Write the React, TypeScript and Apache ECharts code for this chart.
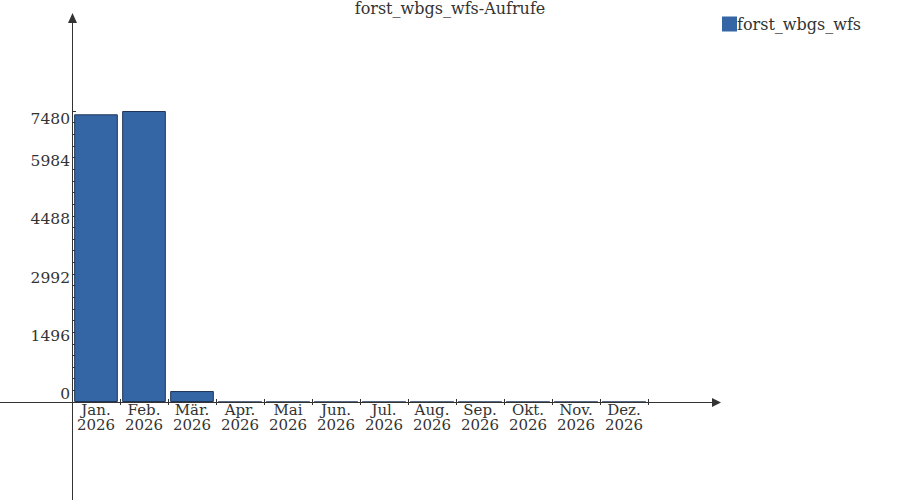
import React, { useEffect, useRef } from "react";
import * as echarts from "echarts";

const title = "forst_wbgs_wfs-Aufrufe";
const seriesName = "forst_wbgs_wfs";
const categories = [
  "Jan.\n2026", "Feb.\n2026", "Mär.\n2026", "Apr.\n2026", "Mai\n2026", "Jun.\n2026",
  "Jul.\n2026", "Aug.\n2026", "Sep.\n2026", "Okt.\n2026", "Nov.\n2026", "Dez.\n2026",
];
const values = [7395, 7480, 282, 0, 0, 0, 0, 0, 0, 0, 0, 0];
const yMax = 7480;
const yStep = 1496;

const FONT = "DejaVu Serif";
const TEXT = "#333333";
const AXIS = "#333333";

export default function App() {
  const ref = useRef<HTMLDivElement>(null);
  useEffect(() => {
    if (!ref.current) return;
    const chart = echarts.init(ref.current, null, { renderer: "svg" });
    const yLabelBase = {
      fontFamily: FONT,
      fontSize: 15.5,
      color: TEXT,
      margin: 2,
    };
    chart.setOption({
      animation: false,
      backgroundColor: "#ffffff",
      textStyle: { fontFamily: FONT, color: TEXT },
      title: {
        text: title,
        left: "center",
        top: 0,
        padding: 0,
        textStyle: { fontFamily: FONT, fontSize: 16, fontWeight: "normal", color: TEXT },
      },
      legend: {
        left: 722,
        top: 16,
        padding: 0,
        icon: "rect",
        itemWidth: 15,
        itemHeight: 15,
        data: [{ name: seriesName, itemStyle: { borderWidth: 0 } }],
        textStyle: { fontFamily: FONT, fontSize: 16, color: TEXT, padding: [0, 0, 0, -5] },
      },
      grid: { left: 72, right: 252, top: 111, bottom: 98, containLabel: false },
      xAxis: [
        {
          type: "category",
          data: categories,
          position: "bottom",
          axisLine: { show: false },
          axisTick: { show: true, length: 3, lineStyle: { color: AXIS } },
          axisLabel: {
            interval: 0,
            fontFamily: FONT,
            fontSize: 15,
            color: TEXT,
            lineHeight: 15,
            margin: 0,
          },
        },
        {
          type: "category",
          data: categories,
          position: "bottom",
          axisLine: { show: false },
          axisTick: { show: true, inside: true, length: 3, lineStyle: { color: AXIS } },
          axisLabel: { show: false },
        },
      ],
      yAxis: [
        {
          type: "value",
          min: 0,
          max: yMax,
          interval: yStep,
          position: "left",
          axisLine: { show: false },
          splitLine: { show: false },
          axisTick: { show: true, inside: true, length: 4, lineStyle: { color: AXIS } },
          minorTick: { show: true, splitNumber: 5, length: 3, lineStyle: { color: AXIS } },
          axisLabel: {
            ...yLabelBase,
            verticalAlign: "bottom",
            formatter: (v: number) => (v >= yMax ? "" : String(v)),
          },
        },
        {
          type: "value",
          min: 0,
          max: yMax,
          interval: yStep,
          position: "left",
          axisLine: { show: false },
          splitLine: { show: false },
          axisTick: { show: false },
          axisLabel: {
            ...yLabelBase,
            verticalAlign: "top",
            formatter: (v: number) => (v >= yMax ? String(v) : ""),
          },
        },
      ],
      series: [
        {
          name: seriesName,
          type: "bar",
          xAxisIndex: 0,
          yAxisIndex: 0,
          data: values,
          barCategoryGap: "9%",
          itemStyle: { color: "#3465a4", borderColor: "#1f3657", borderWidth: 1 },
        },
      ],
      graphic: [
        {
          type: "line",
          shape: { x1: 0, y1: 402.5, x2: 714, y2: 402.5 },
          style: { stroke: AXIS, lineWidth: 1 },
          z: 100,
        },
        {
          type: "polygon",
          shape: { points: [[712, 398], [721, 402.5], [712, 407]] },
          style: { fill: AXIS },
          z: 100,
        },
        {
          type: "line",
          shape: { x1: 72.5, y1: 20, x2: 72.5, y2: 500 },
          style: { stroke: AXIS, lineWidth: 1 },
          z: 100,
        },
        {
          type: "polygon",
          shape: { points: [[68, 23], [72.5, 13], [77, 23]] },
          style: { fill: AXIS },
          z: 100,
        },
      ],
    });
    return () => chart.dispose();
  }, []);
  return <div ref={ref} style={{ width: 900, height: 500, position: "absolute", left: 0, top: 0 }} />;
}
